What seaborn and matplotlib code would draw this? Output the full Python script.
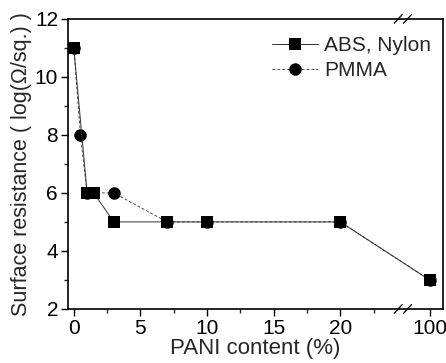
import matplotlib
matplotlib.use("Agg")
import matplotlib.pyplot as plt
import seaborn as sns
import pandas as pd

# data
abs_x = [0, 1, 1.5, 3, 7, 10, 20, 100]
abs_y = [11, 6, 6, 5, 5, 5, 5, 3]
pmma_x = [0, 0.5, 1, 3, 7, 10, 20, 100]
pmma_y = [11, 8, 6, 6, 5, 5, 5, 3]
xtick_vals = [0, 5, 10, 15, 20, 100]
ytick_vals = [2, 4, 6, 8, 10, 12]

# broken x axis: 100 is drawn just past the break
BREAK_POS = 24.7
POS_100 = 26.7


def xpos(v):
    return POS_100 if v == 100 else v


sns.set_theme(style="ticks")
plt.rcParams["font.family"] = ["Liberation Sans", "DejaVu Sans"]

abs_df = pd.DataFrame({"x": [xpos(v) for v in abs_x], "y": abs_y})
pmma_df = pd.DataFrame({"x": [xpos(v) for v in pmma_x], "y": pmma_y})

fig = plt.figure(figsize=(4.46, 3.63), dpi=100)
ax = fig.add_axes([0.152, 0.149, 0.841, 0.799])

sns.lineplot(data=pmma_df, x="x", y="y", ax=ax, color="0.3", linestyle=(0, (3, 2)),
             linewidth=0.7, marker="o", markersize=9, markeredgewidth=0,
             markerfacecolor="black", label="PMMA", sort=False)
sns.lineplot(data=abs_df, x="x", y="y", ax=ax, color="0.2", linestyle="-",
             linewidth=0.7, marker="s", markersize=9, markeredgewidth=0,
             markerfacecolor="black", label="ABS, Nylon", sort=False)

ax.set_xlim(-0.45, 27.7)
ax.set_ylim(2, 12)
ax.set_xticks([xpos(v) for v in xtick_vals])
ax.set_xticklabels([str(v) for v in xtick_vals])
ax.set_xticks([2.5, 7.5, 12.5, 17.5, 22.5], minor=True)
ax.set_yticks(ytick_vals)
ax.set_yticks([3, 5, 7, 9, 11], minor=True)
ax.tick_params(axis="both", which="major", direction="out", length=5, width=1,
               labelsize=15, colors="black", pad=2)
ax.tick_params(axis="both", which="minor", direction="out", length=3, width=1)
for s in ax.spines.values():
    s.set_color("black")
    s.set_linewidth(1.2)

ax.set_xlabel("PANI content (%)", fontsize=16, labelpad=0)
ax.set_ylabel("Surface resistance ( log(\u03a9/sq.) )", fontsize=15.5, labelpad=2)

# break marks on top and bottom spines
for yy in (0, 1):
    for dx in (-0.35, 0.35):
        ax.plot([BREAK_POS + dx - 0.3, BREAK_POS + dx + 0.3], [yy - 0.015, yy + 0.015],
                transform=ax.get_xaxis_transform(), color="black", lw=0.9, clip_on=False)

handles, labels = ax.get_legend_handles_labels()
ax.legend(handles[::-1], labels[::-1], loc="upper right", frameon=False, fontsize=15,
          handlelength=2.2, handletextpad=0.3, labelspacing=0.3,
          bbox_to_anchor=(0.99, 0.97), borderaxespad=0)

fig.savefig("out.png", dpi=100)
